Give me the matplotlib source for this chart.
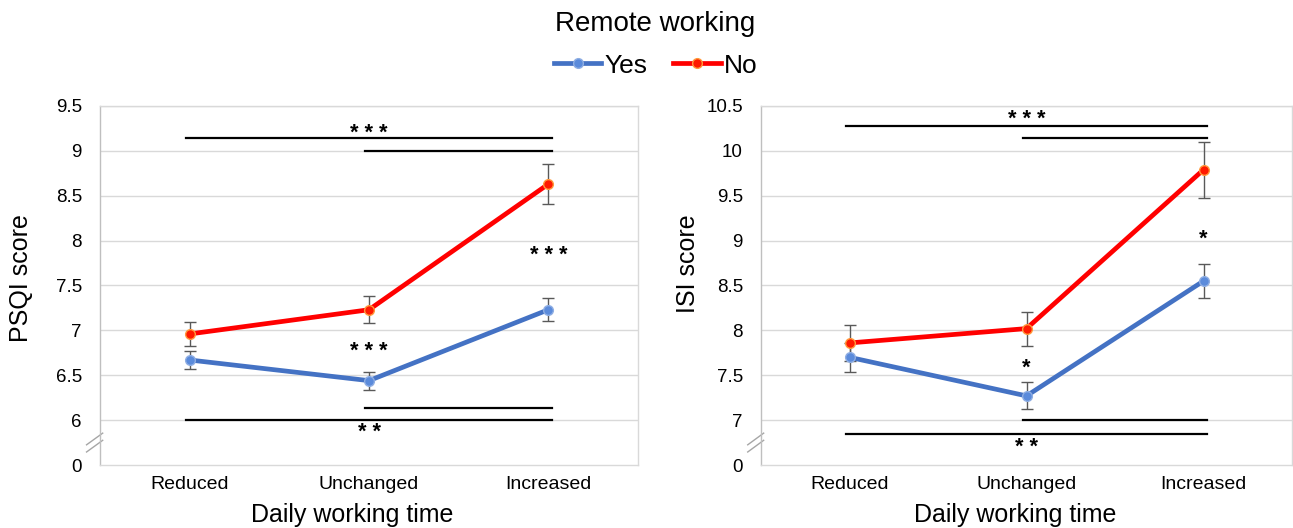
import numpy as np
import matplotlib
matplotlib.use("Agg")
import matplotlib.pyplot as plt
import matplotlib.transforms as mtransforms

plt.rcParams['font.family'] = ['Liberation Sans', 'DejaVu Sans']

categories = ['Reduced', 'Unchanged', 'Increased']

# PSQI (left panel)
psqi_yes = [6.67, 6.44, 7.23]
psqi_yes_err = [0.10, 0.10, 0.13]
psqi_no = [6.96, 7.23, 8.63]
psqi_no_err = [0.13, 0.15, 0.22]

# ISI (right panel)
isi_yes = [7.70, 7.27, 8.55]
isi_yes_err = [0.16, 0.15, 0.19]
isi_no = [7.86, 8.02, 9.79]
isi_no_err = [0.20, 0.19, 0.31]

psqi_ticks = [6, 6.5, 7, 7.5, 8, 8.5, 9, 9.5]
isi_ticks = [7, 7.5, 8, 8.5, 9, 9.5, 10, 10.5]

BLUE = '#4472C4'
RED = '#FF0000'

fig = plt.figure(figsize=(12.93, 5.28), dpi=100)
axL = fig.add_axes([100 / 1293, 63 / 528, 538 / 1293, 359 / 528])
axR = fig.add_axes([761 / 1293, 63 / 528, 531 / 1293, 359 / 528])


def draw_panel(ax, yes, yes_err, no, no_err, ticks, ylabel, brackets, stars, ylab_x, ylab_y, xlab_x):
    x = np.arange(len(categories))
    step = ticks[1] - ticks[0]
    bottom = ticks[0] - step  # position of the "0" after the axis break
    ax.set_xlim(-0.5, len(categories) - 0.5)
    ax.set_ylim(bottom, ticks[-1])
    ax.set_yticks([bottom] + ticks)
    ax.set_yticklabels(['0'] + ['%g' % t for t in ticks])
    ax.set_xticks(x)
    ax.set_xticklabels(categories)
    ax.tick_params(axis='y', length=0, pad=13, labelsize=13.5)
    ax.tick_params(axis='x', length=0, pad=8, labelsize=14)
    for t in ticks:
        ax.axhline(t, color='#d9d9d9', lw=1, zorder=0)
    for s in ax.spines.values():
        s.set_color('#d9d9d9')
        s.set_linewidth(1)
    ax.spines['left'].set_color('#bfbfbf')

    ax.errorbar(x, yes, yerr=yes_err, fmt='none', ecolor='#595959', elinewidth=1,
                capsize=4, capthick=1, zorder=3)
    ax.errorbar(x, no, yerr=no_err, fmt='none', ecolor='#595959', elinewidth=1,
                capsize=4, capthick=1, zorder=3)
    ax.plot(x, yes, color=BLUE, lw=3.4, marker='o', ms=7, mfc='#5B8BDB', mec='#8FAEE3',
            mew=1, zorder=4, label='Yes')
    ax.plot(x, no, color=RED, lw=3.4, marker='o', ms=7, mfc='#FF1A00', mec='#FF9A3C',
            mew=1, zorder=4, label='No')

    for x0, x1, yv in brackets:
        ax.plot([x0 - 0.02, x1 + 0.02], [yv, yv], color='black', lw=1.6, zorder=2)
    for xs, yv, txt in stars:
        ax.annotate(txt, (xs, yv), xytext=(0, -7.3), textcoords='offset points',
                    ha='center', va='baseline', fontsize=15.5, fontweight='bold')

    # axis break mark
    tr = mtransforms.blended_transform_factory(ax.transAxes, ax.transData)
    yb = bottom + step / 2
    for dy in (-0.04, 0.04):
        ax.plot([-0.025, 0.005], [yb + dy - step * 0.13, yb + dy + step * 0.13],
                color='#a6a6a6', lw=1, transform=tr, clip_on=False)

    ax.set_ylabel(ylabel, fontsize=18)
    ax.yaxis.set_label_coords(ylab_x, ylab_y)
    ax.text(xlab_x, -0.16, 'Daily working time', transform=ax.transAxes,
            ha='center', va='baseline', fontsize=18)


draw_panel(axL, psqi_yes, psqi_yes_err, psqi_no, psqi_no_err, psqi_ticks, 'PSQI score',
           brackets=[(0, 2, 9.14), (1, 2, 9.0), (1, 2, 6.14), (0, 2, 6.0)],
           stars=[(1, 9.24, '* * *'), (2, 7.89, '* * *'), (1, 6.82, '* * *'), (1, 5.91, '* *')],
           ylab_x=-0.125, ylab_y=0.52, xlab_x=0.468)

draw_panel(axR, isi_yes, isi_yes_err, isi_no, isi_no_err, isi_ticks, 'ISI score',
           brackets=[(0, 2, 10.28), (1, 2, 10.14), (1, 2, 7.0), (0, 2, 6.84)],
           stars=[(1, 10.4, '* * *'), (2, 9.07, '*'), (1, 7.63, '*'), (1, 6.75, '* *')],
           ylab_x=-0.115, ylab_y=0.56, xlab_x=0.478)

handles, labels = axL.get_legend_handles_labels()
leg = fig.legend(handles, labels, loc='upper center', bbox_to_anchor=(0.507, 1.01), ncol=2,
                 frameon=False, fontsize=19, title='Remote working', title_fontsize=20,
                 handlelength=1.8, handletextpad=0.1, columnspacing=1.0, borderaxespad=0.2,
                 labelspacing=0.65)

fig.savefig('out.png', dpi=100)
